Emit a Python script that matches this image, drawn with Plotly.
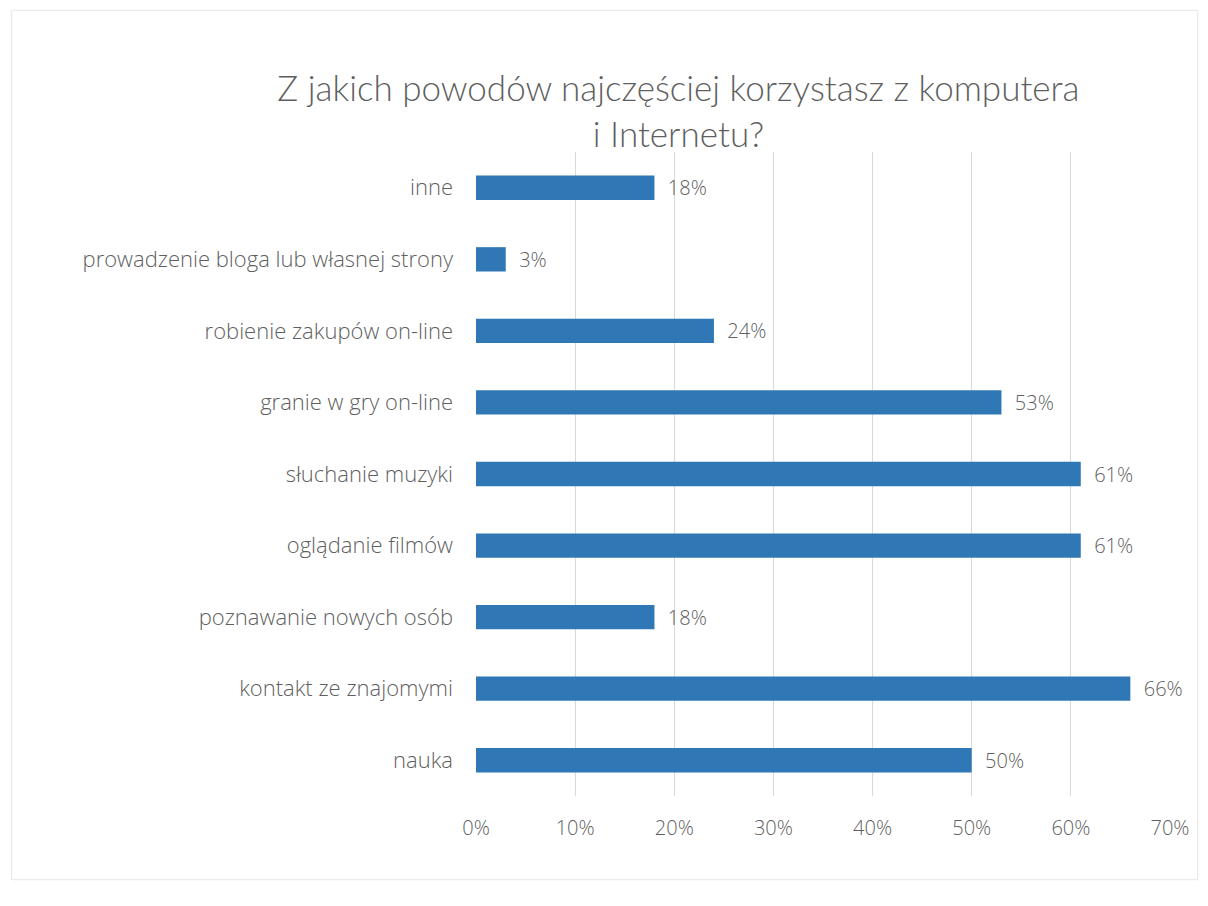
import plotly.graph_objects as go

categories = [
    "nauka",
    "kontakt ze znajomymi",
    "poznawanie nowych osób",
    "oglądanie filmów",
    "słuchanie muzyki",
    "granie w gry on-line",
    "robienie zakupów on-line",
    "prowadzenie bloga lub własnej strony",
    "inne",
]
values = [0.50, 0.66, 0.18, 0.61, 0.61, 0.53, 0.24, 0.03, 0.18]
labels = ["50%", "66%", "18%", "61%", "61%", "53%", "24%", "3%", "18%"]
x_ticks = [0, 0.1, 0.2, 0.3, 0.4, 0.5, 0.6, 0.7]

FONT = "'Open Sans', Lato, sans-serif"
TITLE_FONT = "Lato, 'Open Sans', sans-serif"
GREY = "#5f5f5f"

fig = go.Figure(
    go.Bar(
        x=values,
        y=categories,
        orientation="h",
        marker=dict(color="#2f78b5", line=dict(width=0)),
        width=0.34,
        text=labels,
        texttemplate="  %{text}",
        textposition="outside",
        constraintext="none",
        textfont=dict(size=20, color=GREY, family=FONT, weight=300),
        cliponaxis=False,
    )
)

fig.update_layout(
    width=1208,
    height=906,
    paper_bgcolor="white",
    plot_bgcolor="white",
    margin=dict(l=468, r=46, t=144, b=118),
    showlegend=False,
    title=dict(
        text="Z jakich powodów najczęściej korzystasz z komputera<br>i Internetu?",
        x=0.555,
        xanchor="center",
        y=0.897,
        yanchor="middle",
        font=dict(size=35, color=GREY, family=TITLE_FONT, weight=300),
    ),
    font=dict(family=FONT, color=GREY, weight=300),
)

fig.update_xaxes(
    range=[0, 0.7],
    tickvals=x_ticks,
    tickformat=".0%",
    showgrid=True,
    gridcolor="#d9d9d9",
    gridwidth=1,
    zeroline=False,
    showline=False,
    tickfont=dict(size=20, color=GREY, family=FONT, weight=300),
    ticklabelstandoff=18,
)
fig.update_yaxes(
    showgrid=False,
    showline=False,
    ticks="",
    tickfont=dict(size=22, color=GREY, family=FONT, weight=300),
    ticklabelstandoff=22,
)

fig.add_shape(
    type="rect", xref="paper", yref="paper",
    x0=-0.669, x1=1.04, y0=-0.13, y1=1.22,
    line=dict(color="#e6e6e6", width=1),
)

fig.write_html("out.html")
